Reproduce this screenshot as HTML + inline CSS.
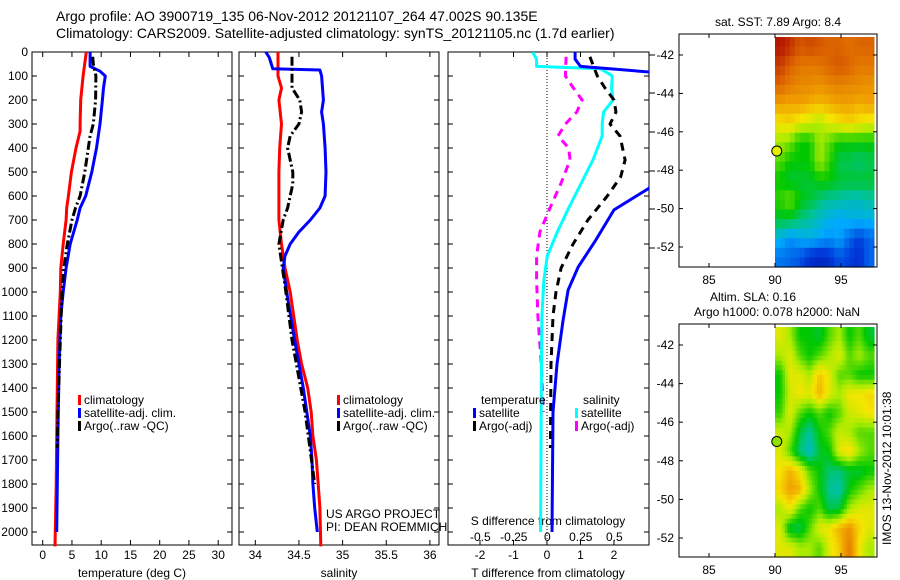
<!DOCTYPE html>
<html><head><meta charset="utf-8"><style>
body{margin:0;background:#fff;}
svg{display:block;font-family:"Liberation Sans",sans-serif;}
</style></head><body>
<svg id="c" width="900" height="580" xmlns="http://www.w3.org/2000/svg"></svg>
<script>
// ---- data ----
const depthTicks=[0,100,200,300,400,500,600,700,800,900,1000,1100,1200,1300,1400,1500,1600,1700,1800,1900,2000];
const tTicks=[0,5,10,15,20,25,30];
const sTicks=[34,34.5,35,35.5,36];
const dtTicks=[-2,-1,0,1,2];
const dsTicks=[-0.5,-0.25,0,0.25,0.5];
const dsTickLabels=['-0.5','-0.25','0','0.25','0.5'];
const tClimD=[0,100,200,300,330,400,500,600,650,700,800,900,1000,1200,1500,1800,2060];
const tClimV=[7.45,6.9,6.5,6.4,6.4,5.7,4.9,4.4,4.1,4.0,3.5,3.1,3.0,2.6,2.45,2.3,2.1];
const tSatD=[0,60,80,100,150,200,300,400,500,600,650,700,800,900,1000,1100,1300,1600,2000];
const tSatV=[8.1,8.1,9.8,10.7,10.4,10.2,9.8,9.2,8.4,7.35,6.4,5.9,4.7,4.0,3.5,3.1,2.8,2.6,2.4];
const tArgD=[20,50,100,200,300,350,400,500,600,650,700,800,900,1000,1200,1500,1650];
const tArgV=[8.55,8.65,9.1,9.05,8.65,8.1,7.8,7.2,6.4,5.6,5.0,4.2,3.6,3.3,3.0,2.6,2.5];
const sClimD=[0,100,150,200,300,400,500,600,700,800,900,1000,1100,1200,1300,1400,1500,1600,1700,1800,1900,2060];
const sClimV=[34.26,34.26,34.3,34.27,34.3,34.28,34.27,34.27,34.27,34.3,34.34,34.4,34.44,34.48,34.53,34.6,34.64,34.66,34.7,34.72,34.74,34.75];
const sSatD=[0,23,70,75,100,200,250,300,400,500,600,650,700,750,800,850,900,1000,1200,1400,1500,1600,1700,1800,1900,2000];
const sSatV=[34.12,34.16,34.2,34.74,34.76,34.78,34.76,34.78,34.8,34.81,34.8,34.74,34.63,34.5,34.4,34.34,34.32,34.36,34.45,34.55,34.59,34.63,34.65,34.66,34.68,34.71];
const sArgD=[20,150,200,250,300,350,400,450,500,550,600,650,700,800,900,1000,1200,1500,1800];
const sArgV=[34.42,34.42,34.51,34.53,34.5,34.4,34.37,34.4,34.43,34.43,34.4,34.37,34.32,34.27,34.31,34.35,34.42,34.57,34.68];
const dtSatD=[0,30,60,85,100,300,500,567,658,783,896,992,1117,1300,1500,2000];
const dtSatV=[0.84,0.84,1.0,3.2,3.5,3.6,3.3,3.05,2.0,1.46,0.93,0.63,0.48,0.3,0.18,0.15];
const dtArgD=[20,100,150,200,250,300,350,450,520,600,700,800,900,1000,1100,1300,1650];
const dtArgV=[1.28,1.5,1.73,2.0,2.06,1.88,2.18,2.33,2.2,1.8,1.22,0.78,0.42,0.27,0.18,0.12,0.1];
const dsSatD=[0,30,60,70,100,150,200,250,300,350,450,550,650,750,850,950,1100,1400,2000];
const dsSatV=[-0.11,-0.08,-0.08,0.4,0.485,0.48,0.49,0.42,0.41,0.41,0.34,0.25,0.16,0.075,0.0,-0.025,-0.04,-0.045,-0.05];
const dsArgD=[20,100,150,200,250,300,350,400,450,550,650,750,850,950,1100,1300,1500];
const dsArgV=[0.14,0.135,0.195,0.26,0.22,0.135,0.08,0.16,0.17,0.1,0.02,-0.055,-0.08,-0.08,-0.07,-0.045,-0.03];
const mapLonTicks=[85,90,95];
const mapLatTicks=[-42,-44,-46,-48,-50,-52];
const sstGrid=[
[.92,.88,.82,.84,.82,.8,.8,.78,.8,.8],
[.86,.8,.77,.76,.77,.8,.82,.8,.76,.77],
[.8,.76,.74,.74,.72,.74,.75,.74,.74,.72],
[.7,.69,.7,.68,.67,.68,.7,.7,.68,.7],
[.62,.64,.6,.58,.55,.6,.62,.64,.62,.6],
[.55,.52,.45,.45,.55,.5,.45,.45,.45,.45],
[.5,.45,.45,.45,.55,.48,.4,.4,.38,.4],
[.45,.42,.42,.42,.45,.45,.42,.42,.42,.42],
[.48,.52,.45,.42,.38,.35,.35,.33,.33,.35],
[.42,.42,.38,.35,.32,.3,.28,.3,.3,.3],
[.3,.25,.28,.3,.28,.25,.28,.2,.15,.2],
[.22,.2,.18,.12,.1,.12,.18,.15,.12,.2]];
const slaGrid=[
[.6,.55,.45,.45,.42,.5,.55,.45,.5,.42],
[.55,.6,.5,.45,.5,.55,.6,.5,.55,.5],
[.45,.6,.6,.55,.66,.6,.5,.5,.45,.45],
[.45,.58,.62,.6,.68,.6,.55,.62,.62,.64],
[.48,.6,.5,.45,.5,.45,.5,.58,.6,.62],
[.58,.55,.42,.35,.45,.5,.58,.55,.5,.5],
[.6,.5,.38,.32,.42,.45,.6,.64,.55,.5],
[.62,.68,.62,.5,.45,.38,.38,.42,.42,.45],
[.64,.7,.68,.55,.45,.36,.34,.45,.5,.55],
[.55,.62,.5,.45,.5,.4,.42,.55,.6,.6],
[.6,.42,.4,.5,.6,.62,.68,.72,.64,.6],
[.6,.6,.55,.55,.5,.6,.65,.76,.62,.55]];
const argoLon=90.135, argoLat=-47.002;

// ---- helpers ----
const NS='http://www.w3.org/2000/svg', svg=document.getElementById('c');
function E(tag,a,p){const e=document.createElementNS(NS,tag);for(const k in a)e.setAttribute(k,a[k]);(p||svg).appendChild(e);return e;}
function T(x,y,s,a,p){const e=E('text',Object.assign({x:x,y:y,'font-size':12,fill:'#000'},a||{}),p);e.textContent=s;return e;}
const Y0=52, YS=0.24, YB=545;
const yD=d=>Y0+d*YS;
const xT=v=>42.7+v*5.85;
const xS=v=>255.3+(v-34)*87.3;
const xDT=v=>547+v*33.5;
const xDS=v=>547.3+v*134;

function panel(name,x0,x1,showLabels){
  const g=E('g',{});
  
  
  E('rect',{x:x0,y:Y0,width:x1-x0,height:YB-Y0,fill:'none',stroke:'#000','stroke-width':1},g);
  depthTicks.forEach(d=>{
    E('line',{x1:x0,x2:x0+5,y1:yD(d),y2:yD(d),stroke:'#000'},g);
    E('line',{x1:x1,x2:x1-5,y1:yD(d),y2:yD(d),stroke:'#000'},g);
    if(showLabels){const t=T(x0-4,yD(d)+4,String(d),{'text-anchor':'end'},g);
      }
  });
  return g;
}
function line(g,D,V,fx,color,w,dash,name,clipId){
  const pts=D.map((d,i)=>fx(V[i]).toFixed(1)+','+yD(d).toFixed(1)).join(' ');
  const a={points:pts,fill:'none',stroke:color,'stroke-width':w,'stroke-linejoin':'round'};
  if(dash)a['stroke-dasharray']=dash;
  if(clipId)a['clip-path']='url(#'+clipId+')';
  const e=E('polyline',a,g);
  
  
}
function xticks(g,ticks,labels,fx,x0,x1,ly){
  ticks.forEach((v,i)=>{const x=fx(v);
    E('line',{x1:x,x2:x,y1:YB,y2:YB-5,stroke:'#000'},g);
    E('line',{x1:x,x2:x,y1:Y0,y2:Y0+5,stroke:'#000'},g);
    if(labels){const t=T(x,ly,labels[i],{'text-anchor':'middle'},g);
      }
  });
}
function legend(g,x,y,color,label,name){
  E('rect',{x:x,y:y-9,width:3,height:10,fill:color},g);
  const t=T(x+6,y,label,{},g);
  
}

const defs=E('defs',{});
E('rect',{x:448,y:Y0,width:201,height:YB-Y0},E('clipPath',{id:'p3clip'},defs));

let t=T(56,21,'Argo profile: AO 3900719_135 06-Nov-2012 20121107_264 47.002S 90.135E',{'font-size':14});

t=T(56,38,'Climatology: CARS2009. Satellite-adjusted climatology: synTS_20121105.nc (1.7d earlier)',{'font-size':14});


const g1=panel('temperature-panel',32,232,true);
xticks(g1,tTicks,tTicks.map(String),xT,32,232,559);
t=T(132,577,'temperature (deg C)',{'text-anchor':'middle'},g1);
line(g1,tClimD,tClimV,xT,'#f00',3,null,'temp-climatology-line');
line(g1,tSatD,tSatV,xT,'#00f',3,null,'temp-satellite-line');
line(g1,tArgD,tArgV,xT,'#000',3,'9,3,2,3','temp-argo-line');
legend(g1,78,404,'#f00','climatology','legend-climatology');
legend(g1,78,417,'#00f','satellite-adj. clim.','legend-satellite');
legend(g1,78,430,'#000','Argo(..raw -QC)','legend-argo');

const g2=panel('salinity-panel',239,439,false);
xticks(g2,sTicks,sTicks.map(String),xS,239,439,559);
t=T(339,577,'salinity',{'text-anchor':'middle'},g2);
line(g2,sClimD,sClimV,xS,'#f00',3,null,'sal-climatology-line');
line(g2,sSatD,sSatV,xS,'#00f',3,null,'sal-satellite-line');
line(g2,sArgD,sArgV,xS,'#000',3,'9,3,2,3','sal-argo-line');
legend(g2,337,404,'#f00','climatology','legend-climatology-2');
legend(g2,337,417,'#00f','satellite-adj. clim.','legend-satellite-2');
legend(g2,337,430,'#000','Argo(..raw -QC)','legend-argo-2');
t=T(326,518,'US ARGO PROJECT',{},g2);
t=T(326,531,'PI: DEAN ROEMMICH',{},g2);

const g3=panel('difference-panel',448,649,false);
E('line',{x1:xDT(0),x2:xDT(0),y1:Y0,y2:YB,stroke:'#000','stroke-dasharray':'1,2'},g3);
xticks(g3,dtTicks,dtTicks.map(String),xDT,448,649,559);
dsTicks.forEach((v,i)=>{const tt=T(xDS(v),541,dsTickLabels[i],{'text-anchor':'middle'},g3);});
t=T(548,525,'S difference from climatology',{'text-anchor':'middle'},g3);
t=T(548,577,'T difference from climatology',{'text-anchor':'middle'},g3);
line(g3,dsArgD,dsArgV,xDS,'#f0f',3,'8,6','sdiff-argo-line','p3clip');
line(g3,dsSatD,dsSatV,xDS,'#0ff',3,null,'sdiff-satellite-line','p3clip');
line(g3,dtArgD,dtArgV,xDT,'#000',3,'8,6','tdiff-argo-line','p3clip');
line(g3,dtSatD,dtSatV,xDT,'#00f',3,null,'tdiff-satellite-line','p3clip');
[55,93,132,171,209,248].forEach(y=>E('line',{x1:649,x2:655,y1:y,y2:y,stroke:'#000'},g3));
t=T(481,404,'temperature',{},g3);
t=T(583,404,'salinity',{},g3);
legend(g3,473,417,'#00f','satellite','legend-t-satellite');
legend(g3,473,430,'#000','Argo(-adj)','legend-t-argo');
legend(g3,575,417,'#0ff','satellite','legend-s-satellite');
legend(g3,575,430,'#f0f','Argo(-adj)','legend-s-argo');

// colormap matching reference palette
const cmStops=[0,.15,.28,.36,.45,.55,.62,.7,.8,.95];
const cmCols=[[0,0,140],[0,60,220],[0,170,255],[0,195,150],[0,200,0],[170,235,0],[245,230,0],[240,160,0],[220,100,0],[170,0,0]];
function cmap(v){
  if(v<=cmStops[0])return 'rgb('+cmCols[0]+')';
  for(let i=1;i<cmStops.length;i++){
    if(v<=cmStops[i]){const f=(v-cmStops[i-1])/(cmStops[i]-cmStops[i-1]);
      const c=cmCols[i-1].map((a,k)=>Math.round(a+(cmCols[i][k]-a)*f));return 'rgb('+c+')';}
  }
  return 'rgb('+cmCols[cmCols.length-1]+')';
}
function upsample(grid,f){
  const R=grid.length,C=grid[0].length,out=[];
  for(let i=0;i<R*f;i++){const row=[];
    const fi=Math.min(R-1,Math.max(0,(i+0.5)/f-0.5)),i0=Math.floor(fi),i1=Math.min(R-1,i0+1),a=fi-i0;
    for(let j=0;j<C*f;j++){
      const fj=Math.min(C-1,Math.max(0,(j+0.5)/f-0.5)),j0=Math.floor(fj),j1=Math.min(C-1,j0+1),b=fj-j0;
      row.push((1-a)*((1-b)*grid[i0][j0]+b*grid[i0][j1])+a*((1-b)*grid[i1][j0]+b*grid[i1][j1]));
    }out.push(row);}
  return out;
}
function map(name,top,bot,lat42,lat52,grid,titles,dotColor){
  const g=E('g',{});
  
  
  const xL=l=>775+(l-90)*13.2;
  const sc=(lat52-lat42)/10;
  const yL=l=>lat42+(-42-l)*sc;
  const latTop=-42-(top+3-lat42)/sc, latBot=-42-(bot-lat42)/sc;
  const rows=grid.length, cols=grid[0].length;
  const dLat=(latTop-latBot)/rows, dLon=7.5/cols;
  grid.forEach((row,i)=>row.forEach((v,j)=>{
    const x=xL(90+j*dLon), y=yL(latTop-i*dLat);
    const c=E('rect',{x:x.toFixed(1),y:y.toFixed(1),width:(dLon*13.2+0.6).toFixed(1),height:(dLat*sc+0.6).toFixed(1),fill:cmap(v)},g);
    
    
  }));
  E('rect',{x:679,y:top,width:198,height:bot-top,fill:'none',stroke:'#000'},g);
  mapLonTicks.forEach(l=>{const x=xL(l);E('line',{x1:x,x2:x,y1:bot,y2:bot-4,stroke:'#000'},g);E('line',{x1:x,x2:x,y1:top,y2:top+4,stroke:'#000'},g);
    const tt=T(x,bot+17,String(l),{'text-anchor':'middle'},g);});
  mapLatTicks.forEach(l=>{const y=yL(l);E('line',{x1:679,x2:683,y1:y,y2:y,stroke:'#000'},g);E('line',{x1:877,x2:873,y1:y,y2:y,stroke:'#000'},g);
    const tt=T(674,y+4,String(l),{'text-anchor':'end'},g);});
  const d=E('circle',{cx:xL(argoLon),cy:yL(argoLat),r:5,fill:dotColor,stroke:'#000'},g);
  
  titles.forEach(s=>{const tt=T(s[1],s[2],s[0],{'text-anchor':'middle'},g);});
}
map('sst-map',34,267,55,247,upsample(sstGrid,2),[['sat. SST: 7.89 Argo: 8.4',778,26]],'#e0f000');
map('sla-map',324,557,345,538,upsample(slaGrid,4),[['Altim. SLA: 0.16',753,301],['Argo h1000: 0.078 h2000: NaN',777,316]],'#90e000');
t=T(0,0,'IMOS 13-Nov-2012 10:01:38',{transform:'translate(891,545) rotate(-90)'});

</script>
</body></html>
